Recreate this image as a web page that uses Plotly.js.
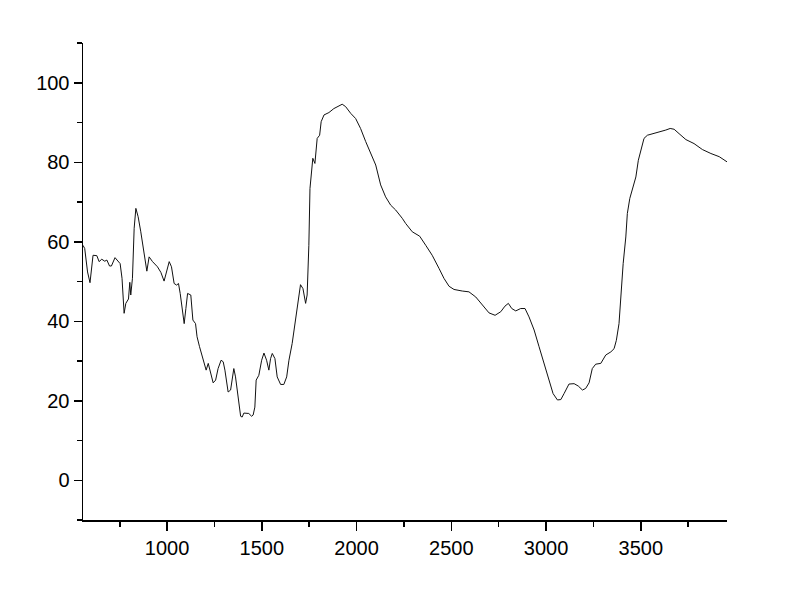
<!DOCTYPE html>
<html>
<head>
<meta charset="utf-8">
<script src="https://cdn.plot.ly/plotly-3.0.1.min.js"></script>
<style>
  html, body { margin: 0; padding: 0; background: #fff; }
  #plot { width: 800px; height: 597px; }
</style>
</head>
<body>
<div id="plot"></div>
<script>
// wavenumber (x) and transmittance (y)
var wavenumber = [
  556, 565, 580, 593, 609, 629, 641, 655, 671, 682, 696, 706, 725, 741, 752, 762,
  770, 773, 782, 796, 803, 808, 817, 826, 835, 847, 861, 879, 893, 905, 923, 949,
  967, 984, 998, 1011, 1023, 1037, 1050, 1060, 1069, 1081, 1090, 1099, 1108, 1125,
  1136, 1150, 1158, 1171, 1189, 1206, 1217, 1229, 1243, 1256, 1269, 1285, 1296, 1305,
  1322, 1335, 1343, 1352, 1361, 1379, 1388, 1396, 1405, 1431, 1446, 1454, 1463, 1470,
  1484, 1499, 1511, 1525, 1537, 1546, 1555, 1569, 1581, 1599, 1616, 1631, 1643, 1660,
  1674, 1687, 1704, 1717, 1731, 1739, 1748, 1754, 1760, 1769, 1780, 1792, 1805, 1813,
  1828, 1854, 1880, 1907, 1924, 1942, 1969, 1995, 2021, 2048, 2074, 2101, 2127, 2153,
  2180, 2206, 2241, 2259, 2294, 2333, 2365, 2399, 2435, 2461, 2488, 2514, 2558, 2593,
  2629, 2664, 2699, 2731, 2761, 2783, 2801, 2819, 2840, 2866, 2889, 2910, 2937, 2963,
  2989, 3016, 3037, 3060, 3078, 3095, 3121, 3148, 3170, 3192, 3209, 3227, 3244, 3262,
  3289, 3315, 3342, 3359, 3371, 3385, 3394, 3407, 3421, 3429, 3442, 3456, 3474, 3487,
  3500, 3517, 3535, 3570, 3606, 3632, 3655, 3676, 3702, 3738, 3781, 3825, 3870, 3914, 3955
];
var transmittance = [
  59.1, 58.3, 52.4, 49.7, 56.6, 56.5, 55.0, 55.6, 55.1, 55.4, 53.9, 53.9, 56.0, 55.0, 54.5, 50.8,
  44.9, 42.0, 44.5, 45.6, 49.8, 46.6, 50.8, 63.4, 68.4, 66.3, 62.5, 56.6, 52.6, 56.2, 55.0, 53.7,
  52.3, 50.1, 52.4, 55.0, 53.7, 49.5, 49.1, 49.5, 47.0, 43.2, 39.4, 43.2, 47.0, 46.6,
  40.3, 39.4, 36.1, 33.6, 30.6, 27.7, 29.4, 27.3, 24.5, 25.2, 28.1, 30.2, 29.8, 27.7,
  22.2, 22.7, 26.0, 28.1, 26.0, 19.3, 16.1, 15.9, 16.9, 16.8, 16.1, 16.4, 18.4, 25.2,
  26.4, 30.2, 32.0, 30.2, 27.7, 30.6, 31.9, 30.6, 26.0, 24.1, 24.1, 26.0, 30.2, 34.4,
  39.4, 44.5, 49.2, 48.2, 44.5, 46.6, 59.1, 73.4, 75.9, 81.0, 79.7, 86.0, 86.8, 90.2,
  91.9, 92.5, 93.5, 94.2, 94.6, 94.0, 92.3, 91.0, 88.5, 85.2, 82.2, 79.3, 74.3, 71.3,
  69.2, 68.0, 65.9, 64.6, 62.5, 61.4, 59.1, 56.6, 53.3, 50.8, 48.8, 48.0, 47.6, 47.4,
  46.1, 44.0, 42.1, 41.5, 42.4, 43.8, 44.5, 43.2, 42.6, 43.2, 43.2, 41.1, 37.8, 33.6,
  29.4, 25.2, 21.8, 20.2, 20.3, 21.8, 24.2, 24.3, 23.7, 22.7, 23.1, 24.5, 28.1, 29.2,
  29.4, 31.5, 32.3, 33.1, 35.2, 39.4, 46.1, 54.5, 61.2, 67.1, 70.9, 73.0, 76.3, 80.5,
  83.1, 86.0, 86.8, 87.2, 87.7, 88.1, 88.5, 88.3, 87.2, 85.7, 84.7, 83.2, 82.2, 81.4, 80.1
];

var trace1 = {
  x: wavenumber,
  y: transmittance,
  type: "scatter",
  mode: "lines",
  line: {color: "#111", width: 1},
  hoverinfo: "none"
};

var layOut = {
  width: 800,
  height: 597,
  margin: {l: 83, r: 73, t: 43, b: 77},
  paper_bgcolor: "#fff",
  plot_bgcolor: "#fff",
  showlegend: false,
  font: {family: "Arial, 'Liberation Sans', sans-serif", size: 20, color: "#000"},
  xaxis: {
    range: [556, 3955],
    tickvals: [1000, 1500, 2000, 2500, 3000, 3500],
    ticks: "outside", ticklen: 9, tickwidth: 1.5, tickcolor: "#000",
    minor: {tickvals: [750, 1250, 1750, 2250, 2750, 3250, 3750], ticks: "outside", ticklen: 5, tickwidth: 1.5, tickcolor: "#000"},
    showline: true, linecolor: "#000", linewidth: 1.5,
    showgrid: false, zeroline: false
  },
  yaxis: {
    range: [-10, 110],
    tickvals: [0, 20, 40, 60, 80, 100],
    ticks: "outside", ticklen: 8, tickwidth: 1.5, tickcolor: "#000",
    minor: {tickvals: [-10, 10, 30, 50, 70, 90, 110], ticks: "outside", ticklen: 5, tickwidth: 1.5, tickcolor: "#000"},
    showline: true, linecolor: "#000", linewidth: 1.5,
    showgrid: false, zeroline: false
  }
};

Plotly.newPlot("plot", [trace1], layOut, {staticPlot: true});
</script>
</body>
</html>
